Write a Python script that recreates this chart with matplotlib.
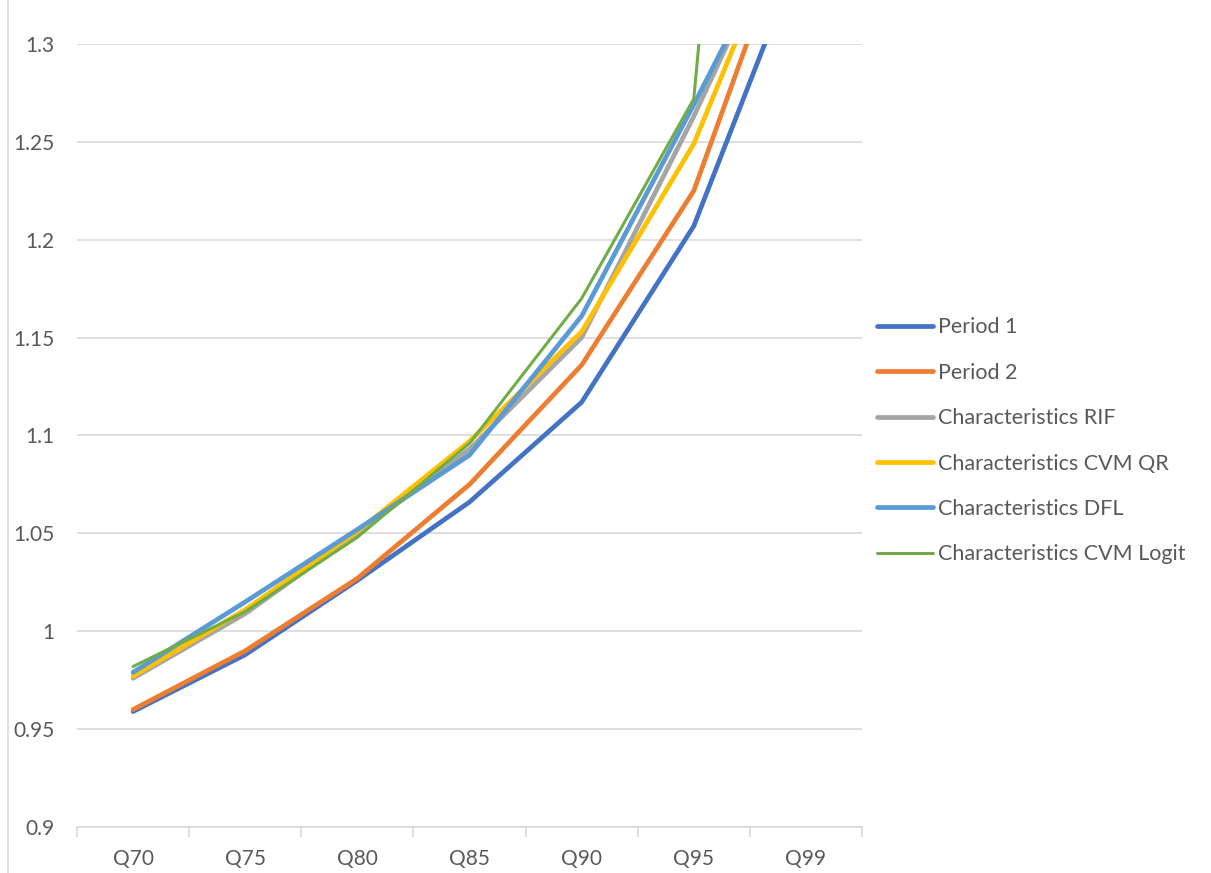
import matplotlib
matplotlib.use("Agg")
import matplotlib.pyplot as plt
from matplotlib.lines import Line2D

categories = ["Q70", "Q75", "Q80", "Q85", "Q90", "Q95", "Q99"]
period1 = [0.959, 0.988, 1.026, 1.066, 1.117, 1.207, 1.354]
period2 = [0.960, 0.990, 1.027, 1.075, 1.136, 1.225, 1.384]
char_rif = [0.976, 1.009, 1.050, 1.093, 1.150, 1.263, 1.386]
char_cvm_qr = [0.977, 1.011, 1.051, 1.097, 1.153, 1.249, 1.388]
char_dfl = [0.979, 1.015, 1.052, 1.090, 1.161, 1.269, 1.381]
char_cvm_logit = [0.982, 1.010, 1.048, 1.096, 1.170, 1.272, 1.890]

series = [
    ("Period 1", period1, "#4472C4", 3.4),
    ("Period 2", period2, "#ED7D31", 3.4),
    ("Characteristics RIF", char_rif, "#A5A5A5", 3.4),
    ("Characteristics CVM QR", char_cvm_qr, "#FFC000", 3.4),
    ("Characteristics DFL", char_dfl, "#5B9BD5", 3.4),
    ("Characteristics CVM Logit", char_cvm_logit, "#70AD47", 2.2),
]

plt.rcParams['font.family'] = ['Lato', 'DejaVu Sans']
fig = plt.figure(figsize=(12.11, 8.73), dpi=100)
ax = fig.add_axes([0.0636, 0.0527, 0.6482, 0.8969])

# chart area border (left edge visible)
fig.add_artist(Line2D([8 / 1211, 8 / 1211], [0, 1], transform=fig.transFigure,
                      color='#D9D9D9', linewidth=1.2))

x = list(range(len(categories)))
for name, vals, col, lw in series:
    ax.plot(x, vals, color=col, linewidth=lw, label=name, solid_capstyle='round', solid_joinstyle='round')

ax.set_xlim(-0.5, len(categories) - 0.5)
ax.set_ylim(0.9, 1.3)
ax.set_yticks([0.9, 0.95, 1.0, 1.05, 1.1, 1.15, 1.2, 1.25, 1.3])
ax.set_yticklabels(["0.9", "0.95", "1", "1.05", "1.1", "1.15", "1.2", "1.25", "1.3"])
ax.set_xticks(x)
ax.set_xticklabels(categories)
ax.set_xticks([i + 0.5 for i in range(-1, len(categories))], minor=True)
ax.grid(axis='y', color='#D9D9D9', linewidth=1.2)
ax.set_axisbelow(True)
for s in ['top', 'right', 'left']:
    ax.spines[s].set_visible(False)
ax.spines['bottom'].set_color('#D9D9D9')
ax.spines['bottom'].set_linewidth(1.2)
ax.tick_params(axis='y', length=0, pad=16, labelsize=15, labelcolor='#595959')
ax.tick_params(axis='x', which='major', length=0, pad=16, labelsize=15, labelcolor='#595959')
ax.tick_params(axis='x', which='minor', length=7, width=1.2, color='#D9D9D9')

leg = ax.legend(loc='center left', bbox_to_anchor=(0.717, 0.495), bbox_transform=fig.transFigure,
                frameon=False, fontsize=15.5, handlelength=2.6, handletextpad=0.25, labelspacing=1.18,
                borderaxespad=0)
for t in leg.get_texts():
    t.set_color('#595959')

fig.savefig("out.png", dpi=100)
